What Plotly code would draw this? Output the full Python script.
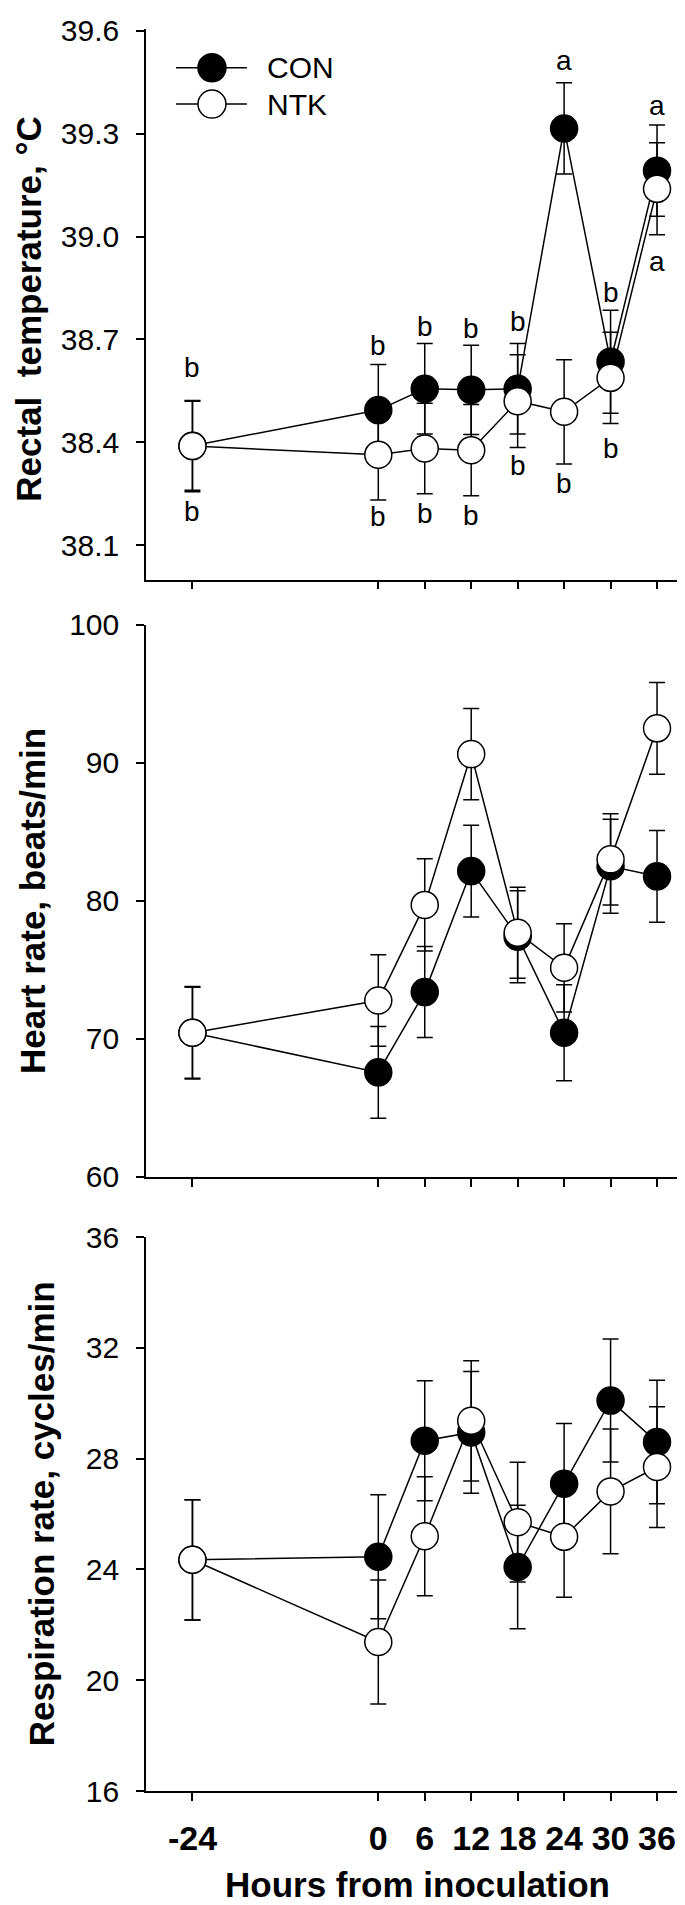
import plotly.graph_objects as go
from plotly.subplots import make_subplots

# ---------------- data ----------------
hours = [-24, 0, 6, 12, 18, 24, 30, 36]
hour_ticks = [-24, 0, 6, 12, 18, 24, 30, 36]

con_temp = [38.39, 38.494, 38.556, 38.553, 38.556, 39.315, 38.635, 39.192]
con_temp_se = [0.13, 0.133, 0.132, 0.13, 0.132, 0.133, 0.15, 0.133]
ntk_temp = [38.389, 38.364, 38.382, 38.377, 38.52, 38.489, 38.588, 39.139]
ntk_temp_se = [0.133, 0.132, 0.132, 0.133, 0.135, 0.152, 0.133, 0.134]

con_hr = [70.44, 67.57, 73.39, 82.16, 77.4, 70.44, 82.51, 81.78]
con_hr_se = [3.3, 3.33, 3.3, 3.32, 3.33, 3.48, 3.4, 3.33]
ntk_hr = [70.44, 72.78, 79.71, 90.64, 77.69, 75.15, 83.01, 92.51]
ntk_hr_se = [3.35, 3.32, 3.34, 3.3, 3.3, 3.2, 3.3, 3.33]

con_rr = [24.35, 24.46, 28.65, 28.95, 24.09, 27.1, 30.1, 28.6]
con_rr_se = [2.17, 2.24, 2.17, 2.2, 2.23, 2.17, 2.22, 2.23]
ntk_rr = [24.35, 21.38, 25.2, 29.37, 25.71, 25.18, 26.82, 27.7]
ntk_rr_se = [2.17, 2.24, 2.15, 2.17, 2.16, 2.18, 2.25, 2.18]

# significance letters on rectal temperature panel
letter_x = [-24, -24, 0, 0, 6, 6, 12, 12, 18, 18, 24, 24, 30, 30, 36, 36]
letter_y = [38.619, 38.197, 38.683, 38.183, 38.737, 38.191, 38.733, 38.188,
            38.751, 38.332, 39.512, 38.279, 38.837, 38.382, 39.382, 38.928]
letter_text = ["b", "b", "b", "b", "b", "b", "b", "b",
               "b", "b", "a", "b", "b", "b", "a", "a"]

series_names = ["CON", "NTK"]
y_titles = ["Rectal\u00a0 temperature, °C", "Heart rate, beats/min", "Respiration rate, cycles/min"]
x_title = "Hours from inoculation"

# ---------------- figure ----------------
W, H = 685, 1905
ML, MR, MT, MB = 138, 5, 13, 122
FONT = "Liberation Sans, Arial, sans-serif"

fig = make_subplots(rows=3, cols=1, shared_xaxes=False, vertical_spacing=0.02)

panels = [
    (con_temp, con_temp_se, ntk_temp, ntk_temp_se),
    (con_hr, con_hr_se, ntk_hr, ntk_hr_se),
    (con_rr, con_rr_se, ntk_rr, ntk_rr_se),
]
fills = ["black", "white"]

for i, (c, cse, n, nse) in enumerate(panels, start=1):
    for name, vals, se, fill in [(series_names[0], c, cse, fills[0]),
                                 (series_names[1], n, nse, fills[1])]:
        fig.add_trace(go.Scatter(
            x=hours, y=vals, name=name, mode="lines+markers",
            line=dict(color="black", width=1.5),
            marker=dict(size=27, color=fill, line=dict(color="black", width=1.5)),
            error_y=dict(type="data", array=se, visible=True, color="black",
                         thickness=1.5, width=8),
            showlegend=False,
        ), row=i, col=1)

# plot-area geometry in pixels
plot_h = H - MT - MB
def py(pix):
    return (H - MB - pix) / plot_h

domains = [(py(566), 1.0), (py(1166), py(611.7)), (0.0, py(1226.7))]
y_ranges = [[38.0, 39.605], [60, 100], [16, 36]]
y_ticks = [[38.1, 38.4, 38.7, 39.0, 39.3, 39.6], [60, 70, 80, 90, 100], [16, 20, 24, 28, 32, 36]]
y_fmt = [".1f", "d", "d"]

for i in range(3):
    ax = "yaxis" if i == 0 else f"yaxis{i+1}"
    xa = "xaxis" if i == 0 else f"xaxis{i+1}"
    fig.layout[ax].update(
        domain=list(domains[i]), range=y_ranges[i], tickvals=y_ticks[i], tickformat=y_fmt[i],
        showline=True, linecolor="black", linewidth=1.6, ticks="outside", ticklen=8,
        tickwidth=1.5, tickcolor="black", showgrid=False, zeroline=False,
        tickfont=dict(family=FONT, size=30, color="black"), ticklabelstandoff=11,
    )
    fig.layout[xa].update(
        range=[-30, 40], tickvals=hour_ticks, ticktext=[str(h) for h in hour_ticks],
        showticklabels=(i == 2),
        showline=True, linecolor="black", linewidth=1.6, ticks="outside", ticklen=8,
        tickwidth=1.5, tickcolor="black", showgrid=False, zeroline=False,
        tickfont=dict(family=FONT, size=34, color="black", weight="bold"),
        ticklabelstandoff=8,
    )

annotations = []
# significance letters
for lx, ly, lt in zip(letter_x, letter_y, letter_text):
    annotations.append(dict(x=lx, y=ly, xref="x", yref="y", text=lt, showarrow=False,
                            font=dict(family=FONT, size=28, color="black"),
                            xanchor="center", yanchor="middle"))

# y-axis titles
title_x_px = [21, 24, 33]
title_y_px = [294, 889, 1505]
for t, xp, yp in zip(y_titles, title_x_px, title_y_px):
    annotations.append(dict(x=(xp - ML) / (W - ML - MR), y=py(yp), xref="paper", yref="paper",
                            text=t, textangle=-90, showarrow=False, borderpad=0,
                            font=dict(family=FONT, size=35, color="black", weight="bold"),
                            xanchor="center", yanchor="middle"))

# x-axis title
annotations.append(dict(x=0.5, y=py(1898), xref="paper", yref="paper",
                        text=x_title, showarrow=False, borderpad=0,
                        font=dict(family=FONT, size=35, color="black", weight="bold"),
                        xanchor="center", yanchor="bottom"))

# legend (drawn manually so markers keep their true size)
leg_y = [39.492, 39.386]
shapes = []
for name, fill, ly in zip(series_names, fills, leg_y):
    shapes.append(dict(type="line", xref="x", yref="y", x0=-26.13, x1=-16.97, y0=ly, y1=ly,
                       line=dict(color="black", width=1.5)))
    shapes.append(dict(type="circle", xref="x", yref="y", xsizemode="pixel", ysizemode="pixel",
                       xanchor=-21.48, yanchor=ly, x0=-14, x1=14, y0=-14, y1=14,
                       fillcolor=fill, line=dict(color="black", width=1.5)))
    annotations.append(dict(x=-14.68, y=ly, xref="x", yref="y", text=name, showarrow=False,
                            font=dict(family=FONT, size=30, color="black"),
                            xanchor="left", yanchor="middle"))

fig.update_layout(
    width=W, height=H, margin=dict(l=ML, r=MR, t=MT, b=MB),
    paper_bgcolor="white", plot_bgcolor="white",
    annotations=annotations, shapes=shapes, showlegend=False,
)

fig.write_html("out.html")
